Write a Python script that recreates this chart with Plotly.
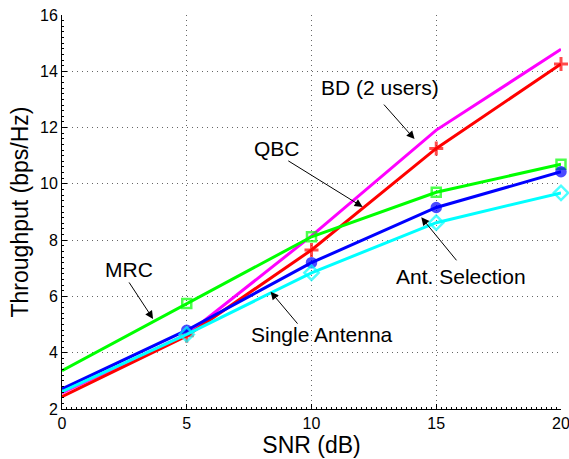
import plotly.graph_objects as go

snr_db = [0, 5, 10, 15, 20]
bd_two_users = [2.57, 4.65, 8.15, 11.91, 14.78]
qbc = [2.44, 4.60, 7.65, 11.26, 14.26]
mrc = [3.36, 5.75, 8.12, 9.70, 10.70]
ant_selection = [2.71, 4.80, 7.20, 9.16, 10.43]
single_antenna = [2.62, 4.65, 6.84, 8.62, 9.68]

x_ticks = [0, 5, 10, 15, 20]
y_ticks = [2, 4, 6, 8, 10, 12, 14, 16]

# (label, text x, text y, arrow tail x, tail y, arrow head x, head y)
callouts = [
    ("BD (2 users)", 12.73, 13.44, 12.85, 12.87, 14.13, 11.59),
    ("QBC", 8.61, 11.27, 9.01, 10.85, 12.05, 9.18),
    ("MRC", 2.69, 6.94, 2.65, 6.55, 3.65, 5.20),
    ("Ant. Selection", 16.01, 6.70, 15.86, 7.23, 14.40, 8.81),
    ("Single Antenna", 10.44, 4.63, 9.49, 4.98, 8.36, 6.17),
]

FONT = "Liberation Sans, Arial, sans-serif"

fig = go.Figure()

series = [
    (bd_two_users, "#ff00ff", None, 9),
    (qbc, "#ff0000", "cross-thin", 10),
    (mrc, "#00ff00", "square-open", 9),
    (ant_selection, "#0000ff", "circle", 9),
    (single_antenna, "#00ffff", "diamond-open", 11),
]

for values, color, symbol, size in series:
    # no marker on the 0 dB point
    sizes = [0] + [size] * (len(snr_db) - 1)
    line_w = 3 if symbol == "cross-thin" else 2.5
    marker = dict(size=sizes, color=color, line=dict(color=color, width=line_w))
    if symbol is None:
        mode = "lines"
    else:
        mode = "lines+markers"
        marker["symbol"] = symbol
    fig.add_trace(go.Scatter(
        x=snr_db, y=values, mode=mode,
        line=dict(color=color, width=3),
        marker=marker, showlegend=False, cliponaxis=False,
    ))

for label, tx, ty, ax, ay, hx, hy in callouts:
    fig.add_annotation(
        x=hx, y=hy, ax=ax, ay=ay, xref="x", yref="y", axref="x", ayref="y",
        text="", showarrow=True, arrowhead=2, arrowsize=1.6, arrowwidth=1,
        arrowcolor="black", standoff=0, startstandoff=0,
    )
    fig.add_annotation(
        x=tx, y=ty, xref="x", yref="y", text=label, showarrow=False,
        font=dict(family=FONT, size=21, color="black"),
    )

axis_common = dict(
    showgrid=True, gridcolor="#666666", griddash="1px,4px", gridwidth=1,
    showline=True, linecolor="black", linewidth=1,
    ticks="inside", ticklen=5, tickcolor="black",
    zeroline=False, mirror=False, automargin=False,
    ticklabeloverflow="allow",
    tickfont=dict(family=FONT, size=16, color="black"),
    minor=dict(ticks="inside", ticklen=2, tickcolor="black", showgrid=False),
)

fig.update_xaxes(
    range=[0, 20], tickvals=x_ticks,
    title=dict(text="SNR (dB)", font=dict(family=FONT, size=23, color="black"), standoff=5),
    **axis_common,
)
fig.update_xaxes(minor_dtick=0.2)
fig.update_yaxes(
    range=[2, 16], tickvals=y_ticks,
    title=dict(text="Throughput (bps/Hz)", font=dict(family=FONT, size=23, color="black"), standoff=4),
    **axis_common,
)
fig.update_yaxes(minor_dtick=0.2)

fig.update_layout(
    width=569, height=459,
    margin=dict(l=62, r=8, t=15, b=50),
    paper_bgcolor="white", plot_bgcolor="white",
)

fig.write_html("out.html")
